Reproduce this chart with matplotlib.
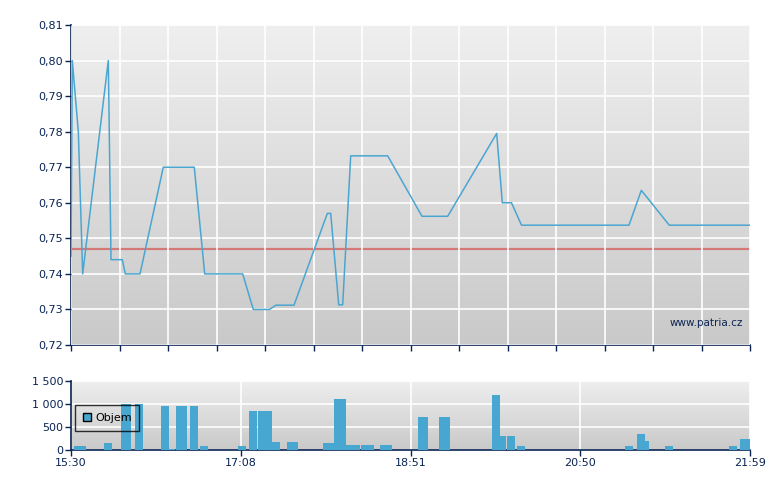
import numpy as np
import matplotlib
matplotlib.use("Agg")
import matplotlib.pyplot as plt
from matplotlib.patches import Patch

# ---- data (x in trade-index units: 0..14) ----
price_x = [0.0, 0.027, 0.151, 0.241, 0.769, 0.825, 1.058, 1.120, 1.423, 1.903,
           2.542, 2.757, 3.540, 3.759, 4.089, 4.227, 4.598, 5.285, 5.355, 5.520,
           5.602, 5.767, 6.530, 7.237, 7.767, 8.777, 8.893, 9.082, 9.289, 11.505,
           11.759, 12.336, 14.0]
price_y = [0.745, 0.80, 0.78, 0.74, 0.80, 0.744, 0.744, 0.74, 0.74, 0.77,
           0.77, 0.74, 0.74, 0.73, 0.73, 0.7312, 0.7312, 0.757, 0.757, 0.7313,
           0.7313, 0.7732, 0.7732, 0.7562, 0.7562, 0.7795, 0.76, 0.76, 0.7537, 0.7537,
           0.7635, 0.7537, 0.7537]
prev_close = 0.747

vol_left = [0.062, 0.680, 1.037, 1.320, 1.856, 2.021, 2.165, 2.454, 2.660, 3.443,
            3.670, 3.856, 4.144, 4.454, 5.196, 5.423, 5.670, 5.979, 6.371, 7.155,
            7.588, 8.680, 8.845, 8.990, 9.196, 11.423, 11.670, 11.835, 12.247, 13.567,
            13.794]
vol_width = [0.247, 0.165, 0.200, 0.165, 0.165, 0.124, 0.227, 0.165, 0.165, 0.165,
             0.165, 0.289, 0.165, 0.227, 0.227, 0.247, 0.289, 0.268, 0.247, 0.206,
             0.227, 0.165, 0.124, 0.165, 0.165, 0.165, 0.165, 0.082, 0.165, 0.165,
             0.206]
vol_vals = [90, 150, 1000, 1000, 950, 25, 950, 950, 90, 90,
            840, 840, 170, 170, 150, 1100, 110, 110, 110, 710,
            710, 1180, 300, 300, 90, 90, 340, 190, 90, 90,
            240]

time_ticks = [0, 3.5, 7, 10.5, 14]
time_labels = ["15:30", "17:08", "18:51", "20:50", "21:59"]
price_ticks = [0.72, 0.73, 0.74, 0.75, 0.76, 0.77, 0.78, 0.79, 0.80, 0.81]
vol_ticks = [0, 500, 1000, 1500]
vol_tick_labels = ["0", "500", "1 000", "1 500"]

NAVY = "#0a2452"
LINE = "#4aa6d0"
BAR = "#47a7d0"

plt.rcParams['font.family'] = ['DejaVu Sans']

fig = plt.figure(figsize=(7.8, 4.9), dpi=100)
ax = fig.add_axes([71/780, 1-345/490, 679/780, 320/490])
axv = fig.add_axes([71/780, 1-450/490, 679/780, 69.3/490])

grad = np.linspace(0, 1, 256).reshape(-1, 1)
for a in (ax, axv):
    a.imshow(grad, extent=[0, 1, 0, 1], transform=a.transAxes, aspect='auto',
             cmap=matplotlib.colors.LinearSegmentedColormap.from_list("g", ["#c9c9c9", "#efefef"]),
             origin='lower', zorder=0)
    for s in ("top", "right"):
        a.spines[s].set_visible(False)
    for s in ("left", "bottom"):
        a.spines[s].set_color(NAVY)
        a.spines[s].set_linewidth(1.2)
    a.tick_params(colors=NAVY, labelcolor=NAVY, labelsize=8, length=4, width=1, pad=1.5)

# main price panel
ax.set_xlim(0, 14)
ax.set_ylim(0.72, 0.81)
ax.set_yticks(price_ticks)
ax.set_yticklabels([f"{v:.2f}".replace(".", ",") for v in price_ticks])
ax.set_xticks(np.arange(0, 15, 1))
ax.set_xticklabels([])
ax.grid(True, color="white", lw=1.2, zorder=1)
ax.set_axisbelow(False)
ax.axhline(prev_close, color="#d46e6e", lw=1.6, alpha=0.9, zorder=2)
ax.plot(price_x, price_y, color=LINE, lw=1.1, zorder=3)
ax.text(0.99, 0.07, "www.patria.cz", transform=ax.transAxes, ha="right", va="center",
        color=NAVY, fontsize=7.5, zorder=4)

# volume panel
axv.set_xlim(0, 14)
axv.set_ylim(0, 1500)
axv.set_yticks(vol_ticks)
axv.set_yticklabels(vol_tick_labels)
axv.set_xticks(time_ticks)
axv.set_xticklabels(time_labels)
axv.grid(True, color="white", lw=1.2, zorder=1)
axv.bar(vol_left, vol_vals, width=vol_width, align="edge", color=BAR, zorder=3, linewidth=0)

handle = Patch(facecolor=BAR, edgecolor="black", linewidth=1)
leg = axv.legend([handle], ["Objem"], loc="upper left", bbox_to_anchor=(0.006, 0.65),
                 frameon=True, fancybox=False, edgecolor="black", facecolor="none",
                 fontsize=8, handlelength=0.7, handleheight=0.7, handletextpad=0.4,
                 borderpad=0.7, borderaxespad=0)
leg.get_frame().set_linewidth(1)
for t in leg.get_texts():
    t.set_color("black")

fig.savefig("out.png", dpi=100)
